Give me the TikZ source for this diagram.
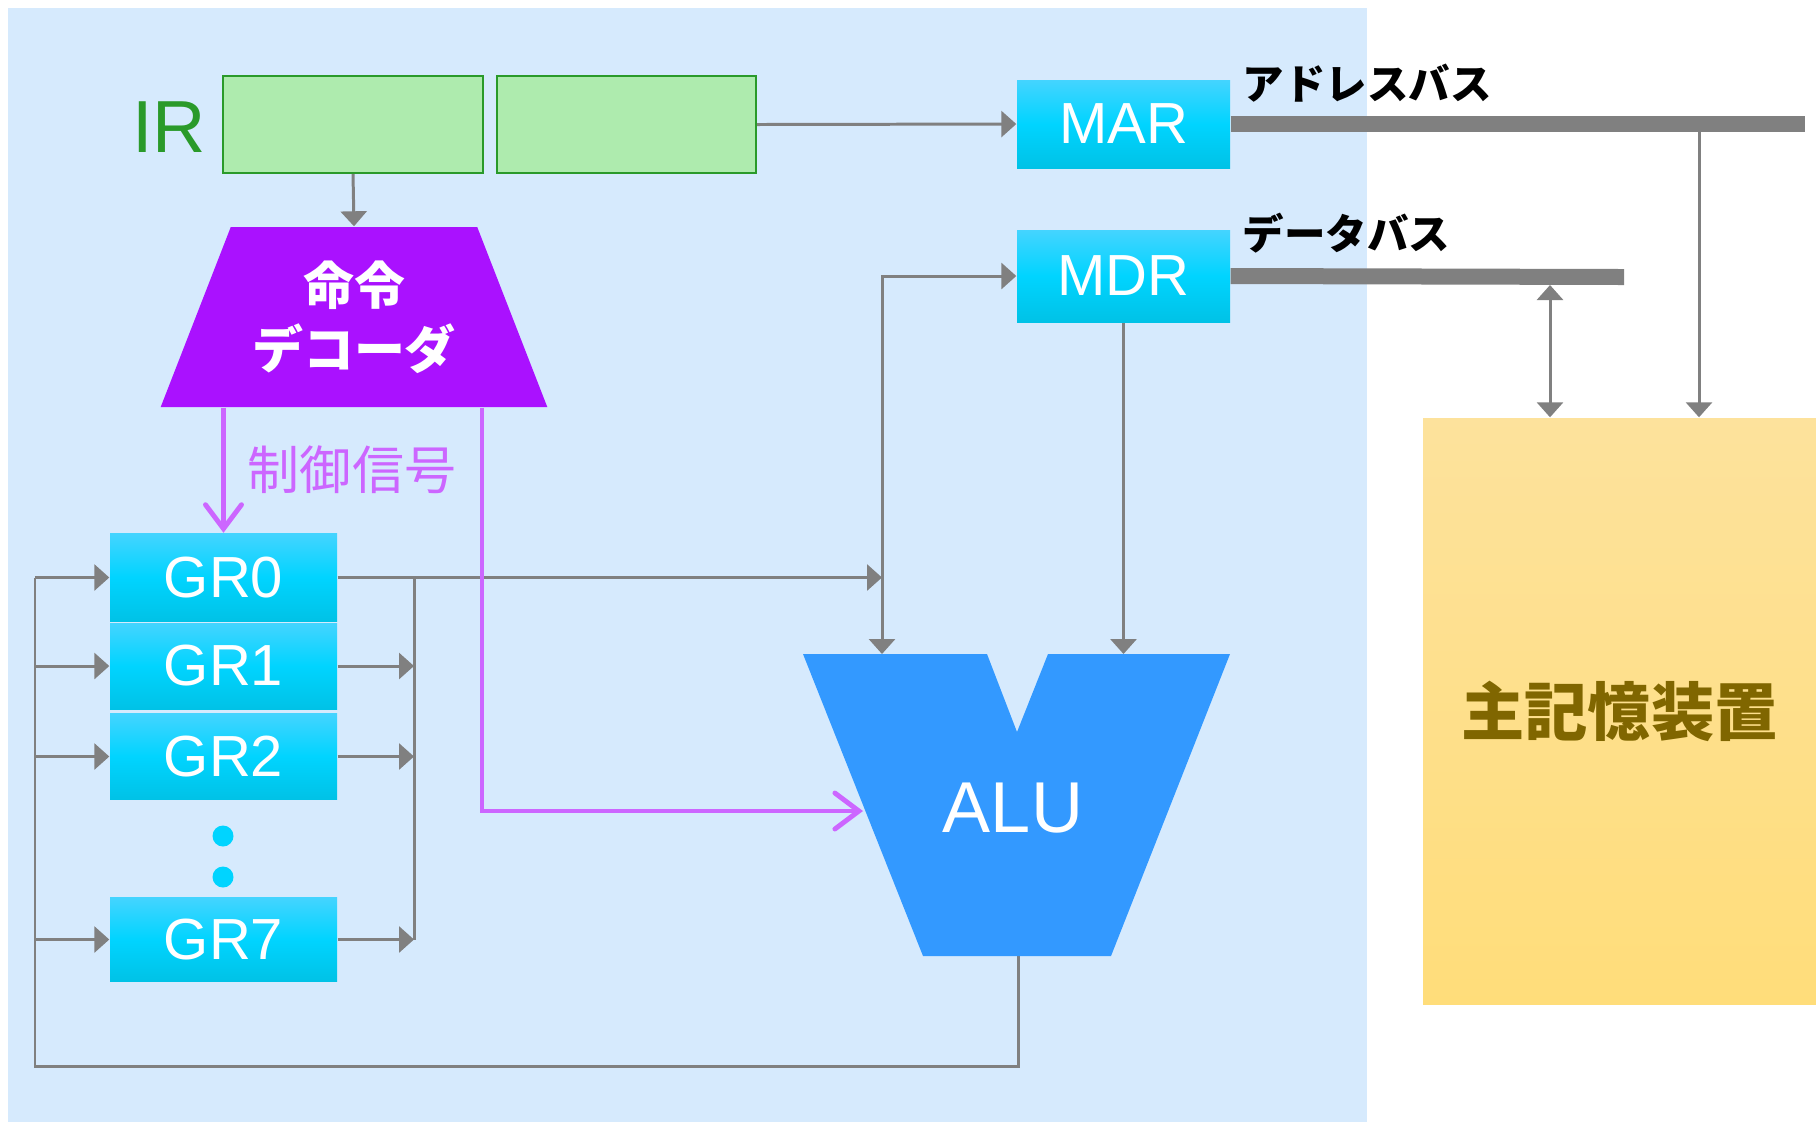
\documentclass[tikz,border=0pt]{standalone}
\usepackage{fontspec}
\setmainfont{Liberation Sans}
\newfontfamily\jpfont{Noto Sans CJK JP}
\usetikzlibrary{shapes.geometric,arrows.meta}
\pgfdeclarelayer{bg}
\pgfsetlayers{bg,main}
\definecolor{panelblue}{RGB}{214,234,253}
\definecolor{wiregray}{RGB}{128,128,128}
\definecolor{irfill}{RGB}{174,235,174}
\definecolor{irgreen}{RGB}{42,154,42}
\definecolor{decpurple}{RGB}{170,17,255}
\definecolor{ctlpurple}{RGB}{204,102,255}
\definecolor{regtop}{RGB}{68,212,255}
\definecolor{regmid}{RGB}{0,212,255}
\definecolor{regbot}{RGB}{0,194,230}
\definecolor{alublue}{RGB}{51,153,255}
\definecolor{memtop}{RGB}{253,226,156}
\definecolor{membot}{RGB}{255,221,122}
\definecolor{memtext}{RGB}{128,102,0}
\tikzset{
  reg/.style={rectangle, inner sep=0pt, minimum width=2.27cm, top color=regtop, bottom color=regbot, middle color=regmid, text=white, font=\fontsize{16.5}{18}\selectfont},
  irbox/.style={rectangle, draw=irgreen, line width=0.6pt, fill=irfill, minimum height=0.97cm, inner sep=0pt},
  irtext/.style={text=irgreen, font=\fontsize{21}{24}\selectfont},
  decoderbox/.style={trapezium, trapezium angle=62.8, trapezium stretches=true, minimum width=3.90cm, minimum height=1.80cm, inner sep=0pt, fill=decpurple, text=white, align=center, font=\jpfont\bfseries\fontsize{14.5}{18.2}\selectfont},
  ctltext/.style={text=ctlpurple, font=\jpfont\fontsize{14.8}{18}\selectfont},
  bustext/.style={anchor=west, inner sep=0pt, font=\jpfont\bfseries\fontsize{11.8}{14}\selectfont},
  memory/.style={rectangle, inner sep=0pt, minimum width=3.93cm, minimum height=5.86cm, top color=memtop, bottom color=membot, text=memtext, font=\jpfont\bfseries\fontsize{18}{22}\selectfont},
  dot/.style={circle, fill=regmid, minimum size=0.21cm, inner sep=0pt},
  wire/.style={draw=wiregray, line width=0.85pt},
  garrow/.style={wire, -{Triangle[length=0.15cm,width=0.26cm]}},
  gboth/.style={wire, {Triangle[length=0.15cm,width=0.26cm]}-{Triangle[length=0.15cm,width=0.26cm]}},
  bus/.style={draw=wiregray, line width=0.16cm},
  ctlarrow/.style={draw=ctlpurple, line width=1.4pt, -{Straight Barb[length=0.24cm,width=0.36cm,line cap=round]}}
}
\begin{document}
\begin{tikzpicture}
        \useasboundingbox (0cm, 0cm) rectangle (18.160000cm, -11.220000cm);
        \node (irlabel) [irtext] at (1.690000cm, -1.270000cm) {IR};
        \node (ir1) [irbox, minimum width=2.60cm] at (3.530000cm, -1.245000cm) {};
        \node (ir2) [irbox, minimum width=2.59cm] at (6.265000cm, -1.245000cm) {};
        \node (decoder) [decoderbox] at (3.540000cm, -3.170000cm) {命令\\デコーダ};
        \node (ctllabel) [ctltext] at (3.520000cm, -4.700000cm) {制御信号};
        \node (gr0) [reg, minimum height=0.88cm] at (2.235000cm, -5.775000cm) {GR0};
        \node (gr1) [reg, minimum height=0.86cm] at (2.235000cm, -6.660000cm) {GR1};
        \node (gr2) [reg, minimum height=0.86cm] at (2.235000cm, -7.565000cm) {GR2};
        \node (dot1) [dot] at (2.230000cm, -8.360000cm) {};
        \node (dot2) [dot] at (2.230000cm, -8.770000cm) {};
        \node (gr7) [reg, minimum height=0.84cm] at (2.235000cm, -9.395000cm) {GR7};
        \node (mar) [reg, minimum width=2.13cm, minimum height=0.88cm] at (11.235000cm, -1.240000cm) {MAR};
        \node (mdr) [reg, minimum width=2.13cm, minimum height=0.92cm] at (11.235000cm, -2.760000cm) {MDR};
        \node (abuslabel) [bustext] at (12.420000cm, -0.830000cm) {アドレスバス};
        \node (dbuslabel) [bustext] at (12.420000cm, -2.330000cm) {データバス};
        \node (mem) [memory] at (16.195000cm, -7.110000cm) {主記憶装置};
        \fill [alublue] (8.030000cm, -6.540000cm) -- (9.870000cm, -6.540000cm) -- (10.170000cm, -7.320000cm) -- (10.480000cm, -6.540000cm) -- (12.300000cm, -6.540000cm) -- (11.110000cm, -9.560000cm) -- (9.230000cm, -9.560000cm) -- cycle;
        \node (alu) [text=white, font=\fontsize{20.5}{24}\selectfont] at (10.130000cm, -8.080000cm) {ALU};
        \coordinate (abusend) at (18.050000cm, -1.240000cm);
        \coordinate (dbusend) at (16.240000cm, -2.770000cm);
        \coordinate (adrop) at (16.990000cm, -1.240000cm);
        \coordinate (ddrop) at (15.500000cm, -2.850000cm);
        \coordinate (mdrcorner) at (8.820000cm, -2.760000cm);
        \coordinate (aluinl) at (8.820000cm, -6.540000cm);
        \coordinate (aluinr) at (11.240000cm, -6.540000cm);
        \coordinate (aluctl) at (8.630000cm, -8.110000cm);
        \coordinate (ctlturn) at (4.820000cm, -8.110000cm);
        \coordinate (aluout) at (10.180000cm, -9.560000cm);
        \coordinate (fbturn) at (10.180000cm, -10.660000cm);
        \coordinate (fbleft) at (0.350000cm, -10.660000cm);
        \coordinate (collx) at (4.140000cm, -5.775000cm);
        \begin{pgfonlayer}{bg}
                \fill [panelblue] (0.080000cm, -0.080000cm) rectangle (13.670000cm, -11.220000cm);
                \draw (ir1.south) edge [garrow] (decoder.north);
                \draw (ir2.east) edge [garrow] (mar.west);
                \draw (mar.east) edge [bus] (abusend);
                \draw (mdr.east) edge [bus] (dbusend);
                \draw (adrop) edge [garrow] (adrop |- mem.north);
                \draw (ddrop) edge [gboth] (ddrop |- mem.north);
                \draw [gboth] (mdr.west) -- (mdrcorner) -- (aluinl);
                \draw (mdr.south) edge [garrow] (mdr.south |- aluinr);
                \draw (gr0.east) edge [garrow] (gr0.east -| mdrcorner);
                \draw [wire] (gr0.east -| collx) -- (gr7.east -| collx);
                \foreach \r in {gr1,gr2,gr7}
                        \draw (\r.east) edge [garrow] (\r.east -| collx);
                \draw [wire] (aluout) -- (fbturn) -- (fbleft) -- (fbleft |- gr0.west);
                \foreach \r in {gr0,gr1,gr2,gr7}
                        \draw (fbleft |- \r.west) edge [garrow] (\r.west);
                \draw (decoder.south -| gr0.north) edge [ctlarrow] (gr0.north);
                \draw [ctlarrow] (decoder.south -| ctlturn) -- (ctlturn) -- (aluctl);
        \end{pgfonlayer}
\end{tikzpicture}
\end{document}
